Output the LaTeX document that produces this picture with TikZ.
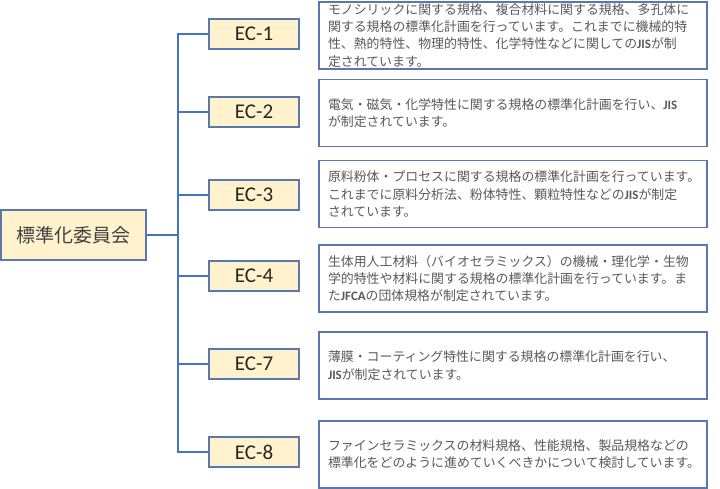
\documentclass[tikz,border=0pt]{standalone}
\usepackage{fontspec}
\setmainfont{Carlito}
\newfontfamily\jpfont{Noto Sans CJK JP}
\newfontfamily\latfont{Carlito}
\usepackage{tikz}
\definecolor{linkblue}{HTML}{4472C4}
\definecolor{boxedge}{HTML}{5A77AE}
\definecolor{ecfill}{HTML}{FFF2CC}
\definecolor{desctext}{HTML}{595959}
\newcommand{\lt}[1]{{\latfont\bfseries #1}}

\begin{document}
\begin{tikzpicture}[x=1pt,y=-1pt,
	every node/.style={font=\jpfont},
	rootbox/.style={draw=boxedge,fill=ecfill,line width=1.2pt,minimum width=145pt,minimum height=50pt,inner sep=0pt,font=\jpfont\fontsize{19}{22}\selectfont,text=black!75},
	ecbox/.style={draw=boxedge,fill=ecfill,line width=1.2pt,minimum width=90pt,minimum height=30pt,inner sep=0pt,font=\latfont\fontsize{21}{23}\selectfont,text=black!85},
	descbox/.style={draw=boxedge,line width=1.2pt,text width=370pt,inner xsep=9pt,inner ysep=0pt,minimum height=67pt,align=left,font=\jpfont\fontsize{12.9}{17.2}\selectfont,text=desctext},
	link/.style={draw=linkblue,line width=1.8pt}]
	\useasboundingbox (0,0) rectangle (720,489);
	\node[rootbox] (root) at (73.5,235) {標準化委員会};
	\node[ecbox] (ec1) at (254,34) {EC-1};
	\node[ecbox] (ec2) at (254,112) {EC-2};
	\node[ecbox] (ec3) at (254,195) {EC-3};
	\node[ecbox] (ec4) at (254,276) {EC-4};
	\node[ecbox] (ec7) at (254,364) {EC-7};
	\node[ecbox] (ec8) at (254,452) {EC-8};
	\foreach \i in {1,2,3,4,7,8}
		\draw[link] (root.east) -- ++(31,0) |- (ec\i.west);
	\node[descbox] (d1) at (513,35.5) {モノシリックに関する規格、複合材料に関する規格、多孔体に\\関する規格の標準化計画を行っています。これまでに機械的特\\性、熱的特性、物理的特性、化学特性などに関しての\lt{JIS}が制\\定されています。};
	\node[descbox] (d2) at (513,113) {電気・磁気・化学特性に関する規格の標準化計画を行い、\lt{JIS}\\が制定されています。};
	\node[descbox] (d3) at (513,194) {原料粉体・プロセスに関する規格の標準化計画を行っています。\\これまでに原料分析法、粉体特性、顆粒特性などの\lt{JIS}が制定\\されています。};
	\node[descbox] (d4) at (513,278.5) {生体用人工材料（バイオセラミックス）の機械・理化学・生物\\学的特性や材料に関する規格の標準化計画を行っています。ま\\た\lt{JFCA}の団体規格が制定されています。};
	\node[descbox] (d7) at (513,365.5) {薄膜・コーティング特性に関する規格の標準化計画を行い、\\\lt{JIS}が制定されています。};
	\node[descbox] (d8) at (513,454.5) {ファインセラミックスの材料規格、性能規格、製品規格などの\\標準化をどのように進めていくべきかについて検討しています。};
\end{tikzpicture}
\end{document}
